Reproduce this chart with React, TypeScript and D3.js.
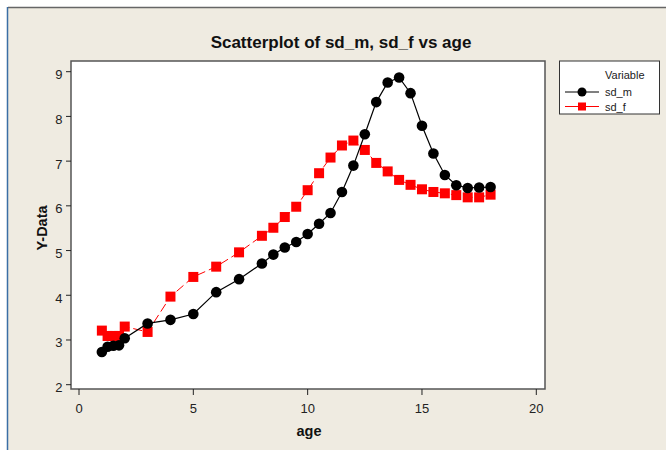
import React from "react";
import * as d3 from "d3";

const W = 666;
const H = 450;

// plot box in page pixels
const BOX = { left: 71, right: 545, top: 61, bottom: 389 };

const ages = [1, 1.25, 1.5, 1.75, 2, 3, 4, 5, 6, 7, 8, 8.5, 9, 9.5, 10, 10.5, 11, 11.5, 12, 12.5, 13, 13.5, 14, 14.5, 15, 15.5, 16, 16.5, 17, 17.5, 18];

const sdM = [2.73, 2.85, 2.87, 2.88, 3.04, 3.37, 3.45, 3.58, 4.07, 4.36, 4.71, 4.91, 5.07, 5.19, 5.37, 5.6, 5.84, 6.31, 6.9, 7.6, 8.32, 8.76, 8.87, 8.52, 7.79, 7.17, 6.69, 6.46, 6.4, 6.41, 6.42];

const sdF = [3.21, 3.09, 3.09, 3.09, 3.3, 3.18, 3.97, 4.41, 4.64, 4.96, 5.33, 5.51, 5.75, 5.98, 6.35, 6.73, 7.08, 7.35, 7.46, 7.25, 6.96, 6.77, 6.58, 6.47, 6.37, 6.31, 6.28, 6.24, 6.19, 6.19, 6.25];

const xTicks = [0, 5, 10, 15, 20];
const yTicks = [2, 3, 4, 5, 6, 7, 8, 9];

const FONT = "'Liberation Sans', Arial, sans-serif";
const BG = "#efebe1";

export default function App() {
  const x = d3.scaleLinear().domain([0, 20]).range([79, 536.3]);
  const y = d3.scaleLinear().domain([2, 9]).range([384.7, 71.7]);

  const m = ages.map((a, i) => ({ a, v: sdM[i] }));
  const f = ages.map((a, i) => ({ a, v: sdF[i] }));

  const line = d3
    .line<{ a: number; v: number }>()
    .x((d) => x(d.a))
    .y((d) => y(d.v));

  return (
    <svg
      width={W}
      height={H}
      style={{ position: "absolute", left: 0, top: 0 }}
      fontFamily={FONT}
    >
      <rect x={0} y={0} width={W} height={H} fill="#fff" />
      <rect x={8} y={8} width={W - 8} height={H - 8} fill={BG} />
      <line x1={8} y1={7.5} x2={W} y2={7.5} stroke="#666" strokeWidth={1.5} />
      <line x1={7.5} y1={7} x2={7.5} y2={H} stroke="#3a6ea5" strokeWidth={1.5} />

      {/* title */}
      <text x={341} y={48} textAnchor="middle" fontWeight="bold" fontSize={17} fill="#111">
        Scatterplot of sd_m, sd_f vs age
      </text>

      {/* plot box */}
      <rect
        x={BOX.left}
        y={BOX.top}
        width={BOX.right - BOX.left}
        height={BOX.bottom - BOX.top}
        fill="#fff"
        stroke="#555"
        strokeWidth={1.5}
      />

      {/* y axis */}
      {yTicks.map((t) => (
        <g key={"y" + t}>
          <line x1={BOX.left - 5} x2={BOX.left} y1={y(t)} y2={y(t)} stroke="#222" />
          <text x={62.5} y={y(t) + 7.5} textAnchor="end" fontSize={13} fill="#222">
            {t}
          </text>
        </g>
      ))}

      {/* x axis */}
      {xTicks.map((t) => (
        <g key={"x" + t}>
          <line x1={x(t)} x2={x(t)} y1={BOX.bottom} y2={BOX.bottom + 6} stroke="#222" />
          <text x={x(t)} y={413} textAnchor="middle" fontSize={13} fill="#222">
            {t}
          </text>
        </g>
      ))}

      <text x={309} y={436} textAnchor="middle" fontWeight="bold" fontSize={14.5} fill="#111">
        age
      </text>
      <text
        transform="translate(47,228) rotate(-90)"
        textAnchor="middle"
        fontWeight="bold"
        fontSize={14.5}
        fill="#111"
      >
        Y-Data
      </text>

      {/* series */}
      <path d={line(f) || ""} fill="none" stroke="#ff0000" strokeWidth={1} strokeDasharray="9,4" />
      {f.map((d, i) => (
        <rect key={"f" + i} x={x(d.a) - 5} y={y(d.v) - 5} width={10} height={10} fill="#ff0000" />
      ))}
      <path d={line(m) || ""} fill="none" stroke="#000" strokeWidth={1.2} />
      {m.map((d, i) => (
        <circle key={"m" + i} cx={x(d.a)} cy={y(d.v)} r={5.3} fill="#000" />
      ))}

      {/* legend */}
      <rect x={559.5} y={61} width={100} height={53} fill="#fff" stroke="#333" strokeWidth={1} />
      <text x={605} y={79} fontSize={11} fill="#222">
        Variable
      </text>
      <line x1={565} x2={599} y1={92} y2={92} stroke="#000" strokeWidth={1} />
      <circle cx={582} cy={92} r={4.5} fill="#000" />
      <text x={605} y={96} fontSize={11} fill="#222">
        sd_m
      </text>
      <line x1={565} x2={599} y1={106.5} y2={106.5} stroke="#ff0000" strokeWidth={1} />
      <rect x={578} y={102.5} width={8} height={8} fill="#ff0000" />
      <text x={605} y={110.5} fontSize={11} fill="#222">
        sd_f
      </text>
    </svg>
  );
}
